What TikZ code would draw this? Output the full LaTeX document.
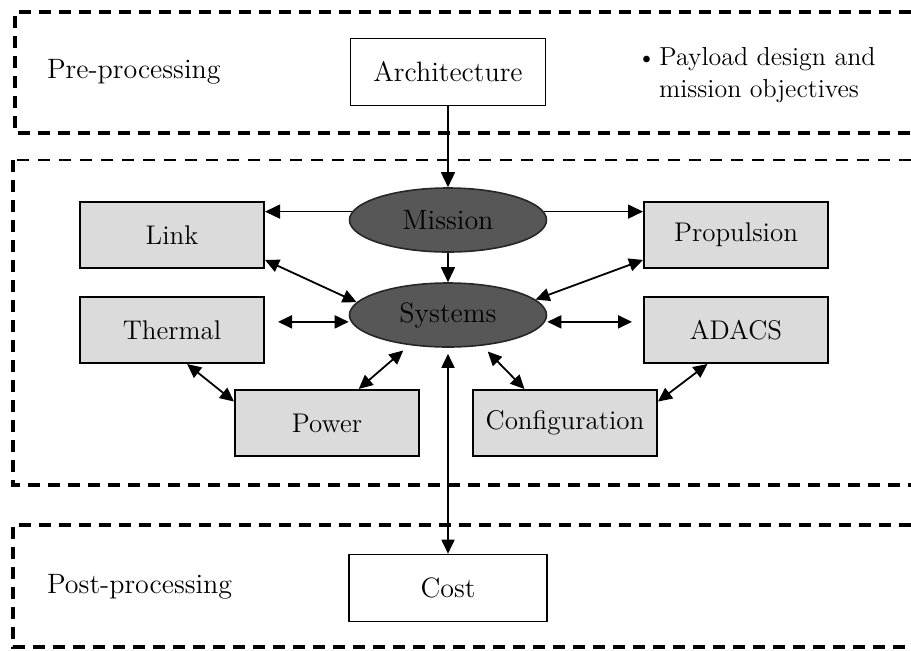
\documentclass[tikz,border=0pt]{standalone}
\usepackage{amsmath}
\usepackage{tikz}
\usetikzlibrary{arrows.meta, shapes.geometric}

\begin{document}
\begin{tikzpicture}[x=0.5pt, y=-0.5pt,
      txt/.style={font=\fontsize{14}{17}\selectfont},
      whitebox/.style={draw, line width=0.8pt, fill=white, minimum width=98pt, minimum height=33.5pt, txt},
      greybox/.style={draw, line width=1pt, fill=black!14, minimum width=92pt, minimum height=33pt,
        inner xsep=1.5pt, font=\fontsize{13.5}{16}\selectfont},
      oval/.style={ellipse, draw=black!85, line width=0.8pt, fill=black!66, minimum width=98.5pt,
        minimum height=32pt, inner sep=0pt, txt},
      frame/.style={line width=2pt, dash pattern=on 6pt off 4pt},
      lightframe/.style={line width=1pt, dash pattern=on 6pt off 4.5pt},
      oneway/.style={line width=0.75pt, -{Triangle[length=7.5pt,width=7pt]}},
      twoway/.style={line width=0.9pt, {Triangle[length=7pt,width=6.5pt]}-{Triangle[length=7pt,width=6.5pt]}}
      ]
      \useasboundingbox (0,0) rectangle (911,650);
      % pre-processing
      \draw[frame] (911,12) -- (15,12) -- (15,133) -- (911,133);
      \node[txt, anchor=base west] (pre) at (40,78) {Pre-processing};
      \node[whitebox, minimum width=97.5pt] (arch) at (448,72) {Architecture};
      \node[align=center, font=\fontsize{13}{16}\selectfont] (payload) at (759,75)
        {\raisebox{0.15ex}{\footnotesize$\bullet$} Payload design and\\mission objectives};
      % systems
      \draw[lightframe] (911,160) -- (13,160);
      \draw[frame] (13,160) -- (13,485) -- (911,485);
      \node[oval] (mission) at (448,220) {Mission};
      \node[oval] (systems) at (448,315) {Systems};
      \node[greybox] (link) at (172,235) {Link};
      \node[greybox] (thermal) at (172,330) {Thermal};
      \node[greybox] (power) at (327,423) {Power};
      \node[greybox] (prop) at (736,235) {Propulsion};
      \node[greybox] (adacs) at (736,330) {ADACS};
      \node[greybox] (config) at (565,423) {Configuration};
      % post-processing
      \draw[frame] (911,525) -- (13,525) -- (13,647) -- (911,647);
      \node[txt, anchor=base west] (post) at (40,593) {Post-processing};
      \node[whitebox, minimum width=99pt] (cost) at (448,588) {Cost};
      % arrows
      \draw[oneway] (arch) -- (mission);
      \draw[oneway] (mission) -- (systems);
      \draw[oneway] (mission.175) -- (mission.175 -| link.east);
      \draw[oneway] (mission.5) -- (mission.5 -| prop.west);
      \draw[twoway] (link.345) -- (systems.172);
      \draw[twoway] (prop.195) -- (systems.10);
      \draw[twoway, shorten <=6.5pt] (thermal.5) -- (thermal.5 -| systems.west);
      \draw[twoway, shorten >=5.5pt] (adacs.175 -| systems.east) -- (adacs.175);
      \draw[twoway] (thermal.294) -- (power.167);
      \draw[twoway, shorten >=4pt] (power.47) -- (systems.218);
      \draw[twoway, shorten <=4pt] (systems.318) -- (config.140);
      \draw[twoway] (adacs.230) -- (config.13);
      \draw[twoway, shorten <=3pt] (systems) -- (cost);
      % \draw[oneway] (arch.south) -- (mission.north);
    \end{tikzpicture}
\end{document}
